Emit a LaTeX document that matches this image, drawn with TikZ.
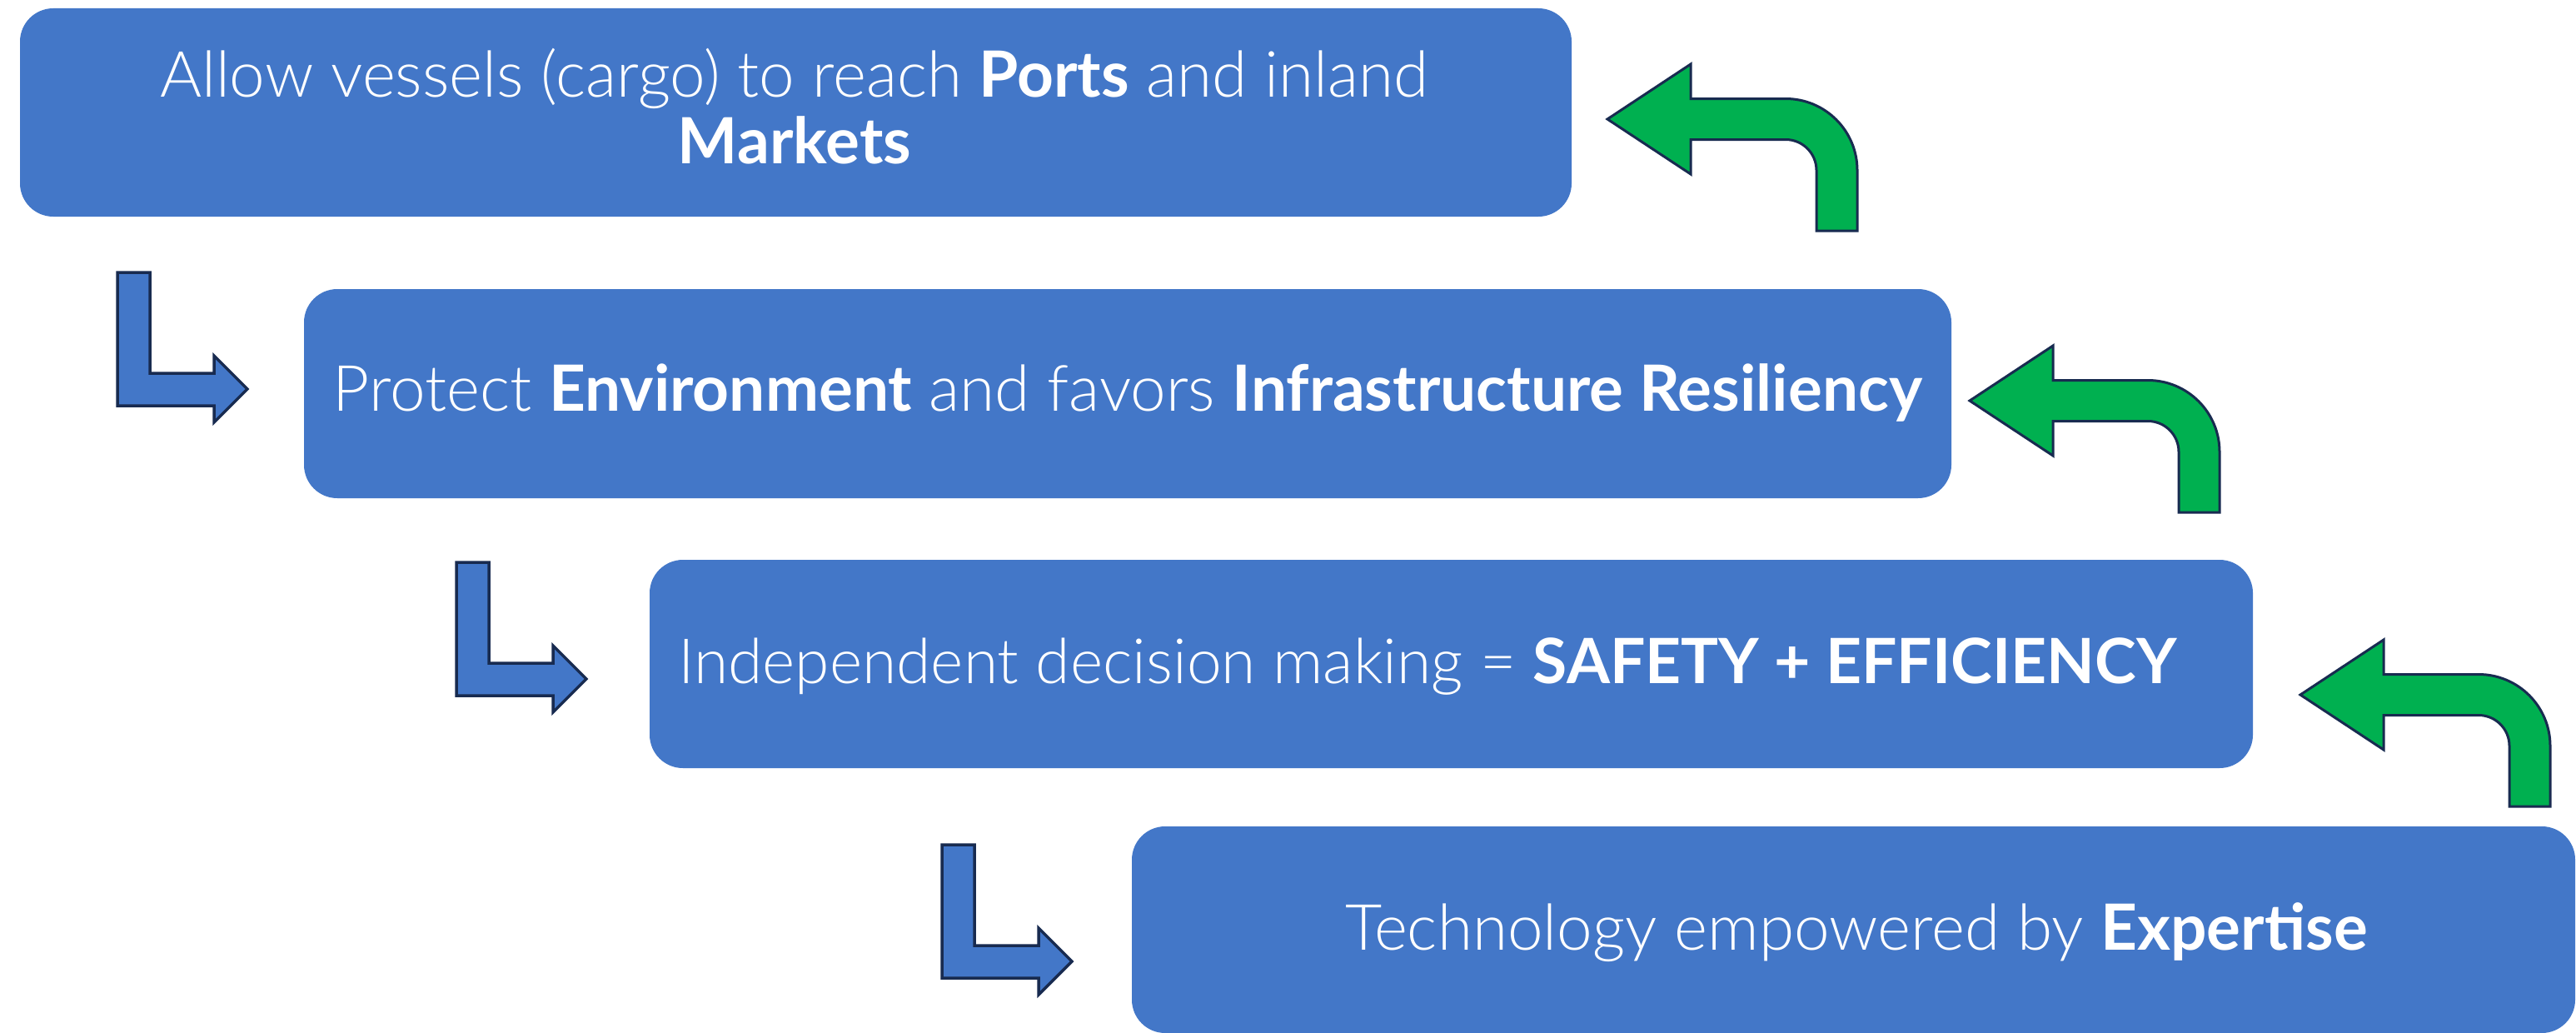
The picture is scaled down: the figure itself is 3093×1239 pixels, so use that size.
\documentclass[tikz,border=0pt]{standalone}
\usepackage{fontspec}
\setmainfont{Lato}[UprightFont={* Light}, BoldFont={* Bold}]
\definecolor{boxblue}{RGB}{67,119,200}
\definecolor{arrowgreen}{RGB}{0,176,80}
\definecolor{navy}{RGB}{24,43,80}
\begin{document}
\begin{tikzpicture}[x=1pt,y=-1pt,
  box/.style={fill=boxblue, draw=none, rounded corners=40pt, outer sep=0pt, inner sep=0pt, anchor=north west},
  txt/.style={anchor=base, text=white, inner sep=0pt, font=\fontsize{76.5}{80}\selectfont},
  greenarrow/.style={fill=arrowgreen, draw=navy, line width=3pt, line join=miter},
  bluearrow/.style={fill=boxblue, draw=navy, line width=3.5pt, line join=miter}]
\fill[white] (0,0) rectangle (3093,1239);
\useasboundingbox (0,0) rectangle (3093,1239);

% boxes
\node[box, minimum width=1863pt, minimum height=250pt] (b1) at (24,10) {};
\node[box, minimum width=1978pt, minimum height=251pt] (b2) at (365,347) {};
\node[box, minimum width=1925pt, minimum height=250pt] (b3) at (780,672) {};
\node[box, minimum width=1733pt, minimum height=248pt] (b4) at (1359,992) {};

% texts
\node[txt] (t1a) at (954,116) {Allow vessels (cargo) to reach \textbf{Ports} and inland};
\node[txt] (t1b) at (954,196) {\textbf{Markets}};
\node[txt] (t2) at (1354,493) {Protect \textbf{Environment} and favors \textbf{Infrastructure Resiliency}};
\node[txt, font=\fontsize{75}{80}\selectfont] (t3) at (1714,820) {Independent decision making = \textbf{SAFETY + EFFICIENCY}};
\node[txt] (t4) at (2229,1140) {Technology empowered by \textbf{Expertise}};

% blue bent arrows
\foreach \px/\py in {141/327,548/675,1131/1014}{
  \begin{scope}[shift={(\px,\py)}]
    \draw[bluearrow] (0,0) -- (39,0) -- (39,121) -- (116,121) -- (116,100) -- (156,140)
      -- (116,180) -- (116,160) -- (0,160) -- cycle;
  \end{scope}
}

% green u-turn arrows
\foreach \px/\py in {1930/143,2365/481,2762/834}{
  \begin{scope}[shift={(\px,\py)}]
    \draw[greenarrow] (0,0) -- (100,-66) -- (100,-24.5) -- (214,-24.5)
      .. controls (261.5,-24.5) and (300,14) .. (300,61.5) -- (300,134) -- (251,134)
      -- (251,61.5) .. controls (251,41.1) and (234.4,24.5) .. (214,24.5)
      -- (100,24.5) -- (100,66) -- cycle;
  \end{scope}
}
\end{tikzpicture}
\end{document}
